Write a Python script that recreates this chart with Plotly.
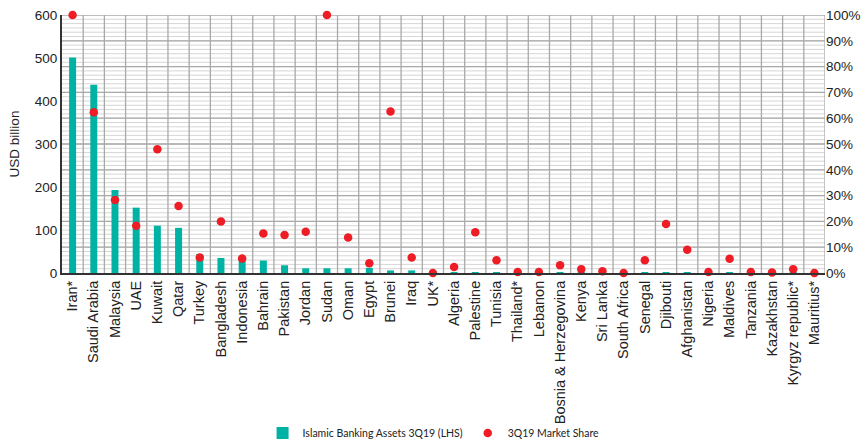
import plotly.graph_objects as go

countries = ["Iran*", "Saudi Arabia", "Malaysia", "UAE", "Kuwait", "Qatar", "Turkey",
             "Bangladesh", "Indonesia", "Bahrain", "Pakistan", "Jordan", "Sudan", "Oman",
             "Egypt", "Brunei", "Iraq", "UK*", "Algeria", "Palestine", "Tunisia", "Thailand*",
             "Lebanon", "Bosnia & Herzegovina", "Kenya", "Sri Lanka", "South Africa", "Senegal",
             "Djibouti", "Afghanistan", "Nigeria", "Maldives", "Tanzania", "Kazakhstan",
             "Kyrgyz republic*", "Mauritius*"]

assets_usd_bn = [501, 438, 193, 152, 110, 105, 44, 35, 34, 29, 18, 11, 11, 11, 12, 6, 6, 3,
                 1.5, 1.8, 1.8, 0.6, 0.5, 0.6, 0.3, 0.4, 0.3, 0.3, 0.4, 0.3, 0.2, 0.3, 0.1,
                 0.1, 0.1, 0.1]

market_share_pct = [100, 62.3, 28.3, 18.3, 48.0, 26.0, 6.0, 20.0, 5.6, 15.3, 14.7, 16.0, 100,
                    13.8, 3.8, 62.6, 6.0, 0.0, 2.3, 15.8, 4.9, 0.4, 0.4, 3.0, 1.5, 0.7, 0.0,
                    4.9, 19.0, 9.0, 0.4, 5.5, 0.4, 0.2, 1.5, 0.0]

left_ticks = [0, 100, 200, 300, 400, 500, 600]
right_ticks = [0, 10, 20, 30, 40, 50, 60, 70, 80, 90, 100]

x_idx = list(range(len(countries)))
FONT = "Liberation Sans, Arial, sans-serif"
GRID = "#A9A9A9"
MINOR = "#D6D6D6"
AXIS = "#333333"
MINOR_STEP = 10  # light grid spacing on the left (USD bn) scale

fig = go.Figure()
fig.add_trace(go.Bar(
    x=x_idx, y=assets_usd_bn, name="Islamic Banking Assets 3Q19 (LHS)",
    marker=dict(color="#00B2A4", line=dict(width=0)), yaxis="y",
))
fig.add_trace(go.Scatter(
    x=x_idx, y=market_share_pct, name="3Q19 Market Share", mode="markers",
    marker=dict(color="#EE1C25", size=8.5), yaxis="y2", cliponaxis=False,
))

# grid drawn as background lines (light minor grid, grey major grid, category separators)
shapes = []
for v in range(MINOR_STEP, left_ticks[-1], MINOR_STEP):
    shapes.append(dict(type="line", xref="paper", x0=0, x1=1, yref="y", y0=v, y1=v,
                       line=dict(color=MINOR, width=1), layer="below"))
for v in right_ticks[1:]:
    shapes.append(dict(type="line", xref="paper", x0=0, x1=1, yref="y2", y0=v, y1=v,
                       line=dict(color=GRID, width=1.3), layer="below"))
for i in x_idx[1:] + [len(countries)]:
    shapes.append(dict(type="line", xref="x", x0=i - 0.5, x1=i - 0.5, yref="paper", y0=0, y1=1,
                       line=dict(color=GRID, width=1.3), layer="below"))

fig.update_layout(
    width=863, height=446,
    margin=dict(l=62, r=38, t=15, b=173, pad=0),
    plot_bgcolor="white", paper_bgcolor="white",
    bargap=0.67,
    shapes=shapes,
    showlegend=True,
    legend=dict(orientation="h", x=0.487, xanchor="center", yref="container",
                y=0.029, yanchor="middle",
                font=dict(family="Lato", size=10.5, color="#222"),
                traceorder="normal", bgcolor="rgba(0,0,0,0)"),
    font=dict(family=FONT, size=13.5, color="#222"),
    xaxis=dict(
        type="linear", range=[-0.5, len(countries) - 0.5],
        tickvals=x_idx, ticktext=countries, tickangle=-90,
        showgrid=False, zeroline=False, ticks="", automargin=False,
        showline=True, linecolor=AXIS, linewidth=2, layer="above traces",
        tickfont=dict(family=FONT, size=14.5),
    ),
    yaxis=dict(
        range=[0, 600], tickvals=left_ticks,
        showgrid=False, zeroline=False, ticks="", automargin=False,
        showline=True, linecolor=AXIS, linewidth=2,
        title=dict(text="USD billion", font=dict(family=FONT, size=13.5), standoff=12),
        tickfont=dict(family=FONT, size=13.5),
    ),
    yaxis2=dict(
        overlaying="y", side="right", anchor="x", range=[0, 100], tickvals=right_ticks,
        ticktext=[f"{v}%" for v in right_ticks],
        showgrid=False, zeroline=False, showline=False, ticks="", automargin=False,
        tickfont=dict(family=FONT, size=13.5),
    ),
)

fig.write_html("out.html")
